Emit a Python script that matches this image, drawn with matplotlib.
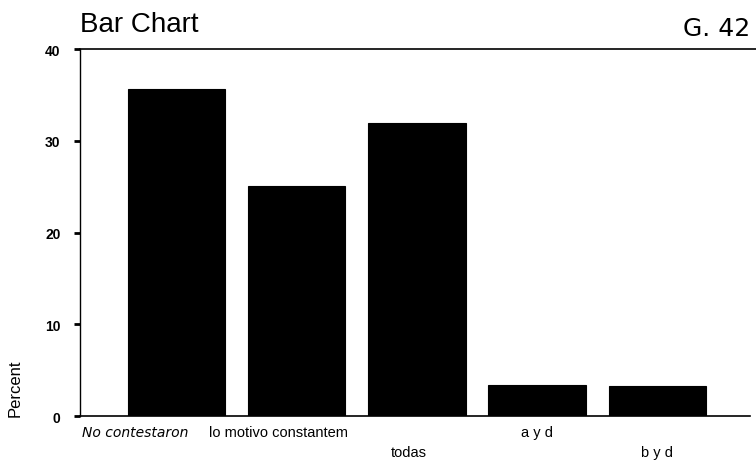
import matplotlib
matplotlib.use("Agg")
import matplotlib.pyplot as plt

categories = ["No contestaron", "lo motivo constantem", "todas", "a y d", "b y d"]
percent = [35.7, 25.1, 31.9, 3.4, 3.3]
label_row = [0, 0, 1, 0, 1]
yticks = [0, 10, 20, 30, 40]

plt.rcParams['font.family'] = ['Liberation Sans', 'DejaVu Sans']

fig = plt.figure(figsize=(7.56, 4.64), dpi=100)
ax = fig.add_axes([0.106, 0.101, 0.886, 0.791])

x = list(range(len(categories)))
ax.bar(x, percent, width=0.81, color="black", edgecolor="black", linewidth=0.8)

ax.set_xlim(-0.8, 4.77)
ax.set_ylim(0, 40)
ax.set_yticks(yticks)
ax.set_yticklabels([str(t) for t in yticks], fontsize=10, fontweight="bold")
ax.tick_params(axis="y", length=4, width=2, pad=10, direction="out")
ax.set_xticks([])

ax.spines["right"].set_visible(False)
ax.spines["top"].set_bounds(-0.8, 4.82)
ax.spines["top"].set_clip_on(False)
ax.spines["left"].set_linewidth(1.0)
ax.spines["bottom"].set_linewidth(1.2)
ax.spines["top"].set_linewidth(1.2)

xt = ax.get_xaxis_transform()
for i, (lab, row) in enumerate(zip(categories, label_row)):
    if i == 0:
        ax.text(i - 0.34, -0.025, lab, transform=xt, ha="center", va="top",
                fontsize=10, fontstyle="italic", fontfamily=["DejaVu Sans"])
    elif i == 1:
        ax.text(i - 0.15, -0.025, lab, transform=xt, ha="center", va="top",
                fontsize=10.5)
    else:
        dx = -0.07 if i == 2 else 0
        ax.text(i + dx, -0.025 - 0.055 * row, lab, transform=xt, ha="center", va="top",
                fontsize=10.5)

ax.text(-0.097, 0.0, "Percent", transform=ax.transAxes, rotation=90,
        ha="center", va="bottom", fontsize=12)

fig.text(0.106, 0.918, "Bar Chart", ha="left", va="bottom", fontsize=20)
fig.text(0.992, 0.912, "G. 42", ha="right", va="bottom", fontsize=18,
         fontfamily=["DejaVu Sans"])

fig.savefig("out.png", dpi=100)
